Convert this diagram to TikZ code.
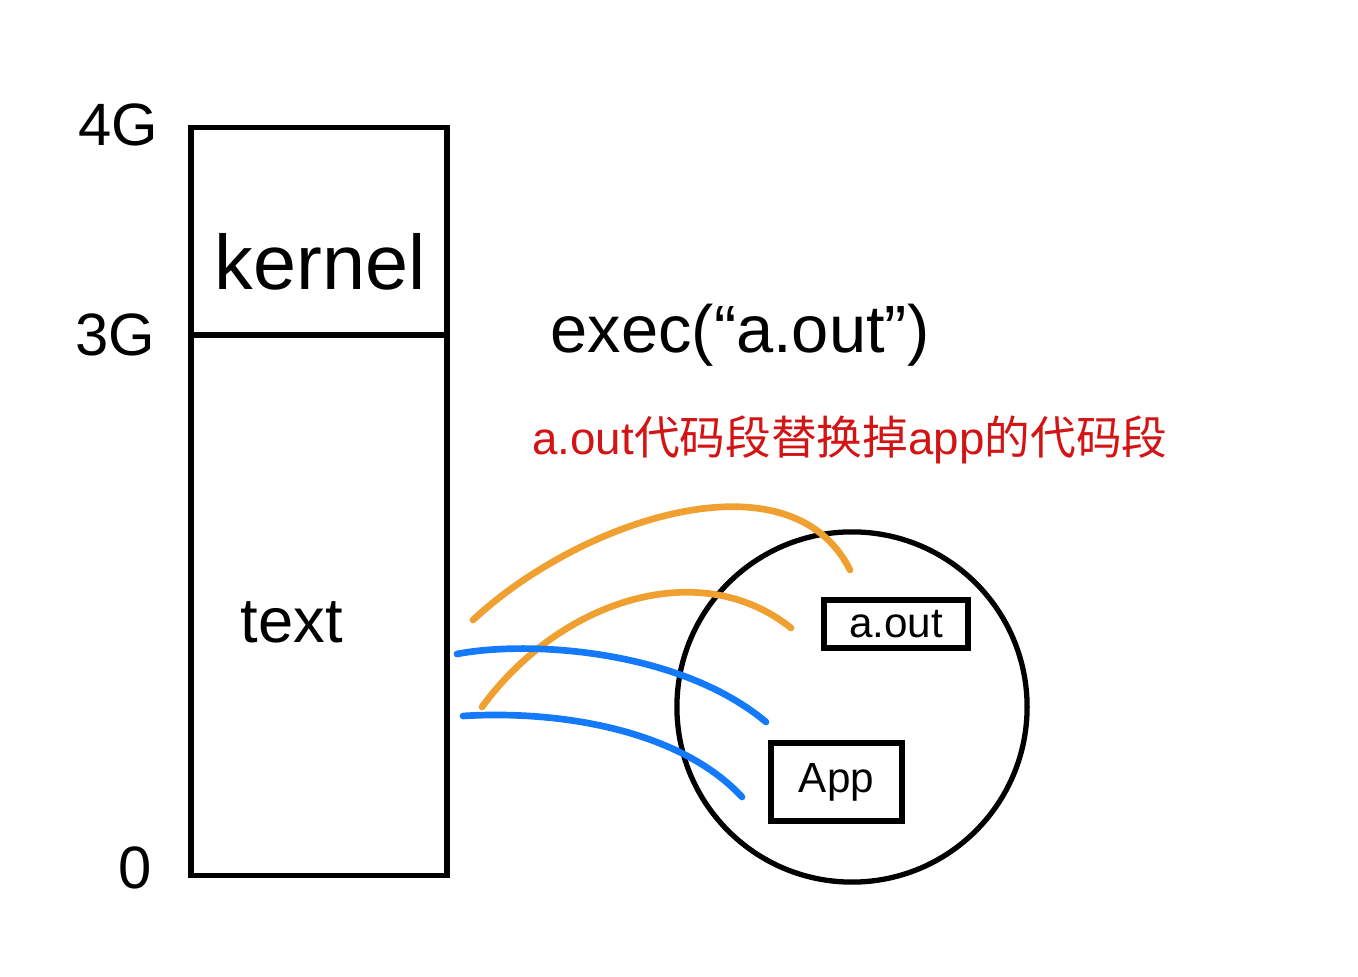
\documentclass[tikz,border=0pt]{standalone}
\usepackage{fontspec}
\setmainfont{Liberation Sans}
\newfontfamily\cjk{Noto Sans CJK SC}
\usepackage{tikz}
\usetikzlibrary{positioning}

\definecolor{handorange}{RGB}{240,160,48}
\definecolor{handblue}{RGB}{20,122,250}
\definecolor{handred}{RGB}{210,20,20}

\begin{document}
\begin{tikzpicture}[
    x=0.01cm, y=-0.01cm,
    box/.style={draw, line width=1.5pt, inner sep=0pt},
    mark label/.style={font=\fontsize{17}{20}\selectfont},
    hand/.style={line width=1.9pt, line cap=round},
]
\useasboundingbox (0,0) rectangle (1358,977);

% Address space
\node[box, minimum width=2.56cm, minimum height=7.47cm] (mem) at (319,501.5) {};
\node[mark label] (g4) at (118,125) {4G};
\node[mark label] (g3) at (115,335) {3G};
\node[mark label] (g0) at (135,868) {0};
\draw[line width=1.5pt] (mem.west |- g3.east) -- (mem.east |- g3.east);
\node[font=\fontsize{22}{26}\selectfont] (kernel) at (320,262) {kernel};
\node[font=\fontsize{18}{22}\selectfont] (text) at (292,622) {text};

% Call and note
\node[font=\fontsize{19}{23}\selectfont] (exec) at (740,335) {exec(``a.out'')};
\node[font=\fontsize{13}{16}\selectfont, text=handred] (note) at (850,440) {a.out{\cjk 代码段替换掉}app{\cjk 的代码段}};

% Process
\node[circle, draw, line width=1.5pt, minimum size=3.5cm] (proc) at (852,707) {};
\node[box, minimum width=1.44cm, minimum height=0.48cm, font=\large] (aout) at (896,624) {a.out};
\node[box, minimum width=1.31cm, minimum height=0.78cm, font=\large] (app) at (836.5,782) {App};

% Mapping strokes
\coordinate (o1s) at (473,620);
\coordinate (o1e) at (850,570);
\coordinate (o2s) at (482,707);
\coordinate (o2e) at (791,628);
\coordinate (b1s) at (457,654);
\coordinate (b1e) at (766,722);
\coordinate (b2s) at (463,716);
\coordinate (b2e) at (742,797);

\draw[hand, handorange] (o1s) .. controls (580,520) and (790,450) .. (o1e);
\draw[hand, handorange] (o2s) .. controls (560,600) and (700,555) .. (o2e);
\draw[hand, handblue] (b1s) .. controls (530,640) and (680,650) .. (b1e);
\draw[hand, handblue] (b2s) .. controls (560,710) and (680,730) .. (b2e);

\end{tikzpicture}
\end{document}
